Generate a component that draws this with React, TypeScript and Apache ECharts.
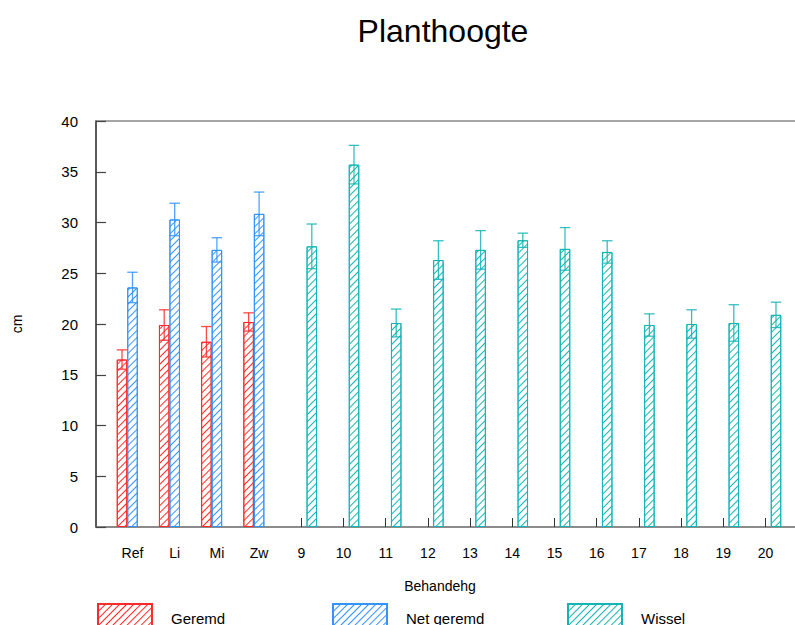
import React, { useEffect, useRef } from "react";
import * as echarts from "echarts";

const categories = ["Ref", "Li", "Mi", "Zw", "9", "10", "11", "12", "13", "14", "15", "16", "17", "18", "19", "20"];
const seriesNames = ["Geremd", "Net geremd", "Wissel"];
const geremd = [16.5, 19.9, 18.25, 20.2, null, null, null, null, null, null, null, null, null, null, null, null];
const geremdErr = [0.95, 1.5, 1.5, 0.9, null, null, null, null, null, null, null, null, null, null, null, null];
const nietGeremd = [23.6, 30.3, 27.3, 30.85, null, null, null, null, null, null, null, null, null, null, null, null];
const nietGeremdErr = [1.5, 1.6, 1.2, 2.15, null, null, null, null, null, null, null, null, null, null, null, null];
const wissel = [null, null, null, null, 27.65, 35.7, 20.1, 26.3, 27.3, 28.25, 27.4, 27.1, 19.9, 20.0, 20.1, 20.9];
const wisselErr = [null, null, null, null, 2.2, 1.9, 1.37, 1.9, 1.9, 0.7, 2.1, 1.1, 1.1, 1.4, 1.8, 1.25];
const yTicks = { min: 0, max: 40, interval: 5 };

const colors = ["#ff2a2a", "#3393ff", "#14b4b4"];
const BAR_W = 10.5;
const FONT = "'Liberation Sans', Arial, sans-serif";

export default function App() {
  const ref = useRef<HTMLDivElement>(null);
  useEffect(() => {
    if (!ref.current) return;
    const chart = echarts.init(ref.current, null, { renderer: "svg" });
    const values = [geremd, nietGeremd, wissel];
    const errs = [geremdErr, nietGeremdErr, wisselErr];
    const offsets = [-BAR_W, 0, BAR_W];

    const decal = (c: string) => ({
      symbol: "rect",
      symbolSize: 1,
      color: c,
      backgroundColor: "#ffffff",
      dashArrayX: [1, 0],
      dashArrayY: [1, 3.2],
      rotation: -Math.PI / 4,
    });

    const barSeries = values.map((v, i) => ({
      type: "bar",
      name: seriesNames[i],
      xAxisIndex: 2,
      yAxisIndex: 1,
      data: v,
      barWidth: BAR_W,
      barGap: "0%",
      itemStyle: { color: "#ffffff", borderColor: colors[i], borderWidth: 1, decal: decal(colors[i]) },
      z: 3,
    }));

    const errSeries = values.map((v, i) => ({
      type: "custom",
      name: seriesNames[i] + " err",
      xAxisIndex: 2,
      yAxisIndex: 1,
      z: 4,
      silent: true,
      data: v
        .map((val, k) => (val == null ? null : [k, (val as number) - (errs[i][k] as number), (val as number) + (errs[i][k] as number)]))
        .filter((d) => d != null),
      renderItem: (params: any, api: any) => {
        const k = api.value(0);
        const lo = api.coord([k, api.value(1)]);
        const hi = api.coord([k, api.value(2)]);
        const x = lo[0] + offsets[i];
        const hw = BAR_W / 2;
        const st = { stroke: colors[i], lineWidth: 1.3, opacity: 0.85 };
        return {
          type: "group",
          children: [
            { type: "line", shape: { x1: x, y1: lo[1], x2: x, y2: hi[1] }, style: st },
            { type: "line", shape: { x1: x - hw, y1: hi[1], x2: x + hw, y2: hi[1] }, style: st },
            { type: "line", shape: { x1: x - hw, y1: lo[1], x2: x + hw, y2: lo[1] }, style: st },
          ],
        };
      },
      encode: { x: 0, y: [1, 2] },
    }));

    const legendItem = (i: number, left: number) => ({
      data: [seriesNames[i]],
      left,
      top: 603,
      padding: 0,
      itemWidth: 54,
      itemHeight: 28,
      icon: "rect",
      textStyle: { fontSize: 15, color: "#000", fontFamily: FONT, padding: [0, 0, 0, 14] },
      selectedMode: false,
    });

    chart.setOption({
      animation: false,
      backgroundColor: "#ffffff",
      title: {
        text: "Planthoogte",
        left: 438,
        top: 10,
        textAlign: "center",
        textStyle: { fontSize: 32, fontWeight: "normal", color: "#000", fontFamily: FONT },
      },
      legend: [legendItem(0, 97), legendItem(1, 332), legendItem(2, 567)],
      grid: [
        { left: 96, right: 0, top: 121, bottom: 98 },
        { left: 111.4, right: 8.4, top: 121, bottom: 98 },
      ],
      xAxis: [
        {
          type: "value",
          gridIndex: 0,
          min: 0,
          max: 1,
          position: "bottom",
          axisLine: { show: true, lineStyle: { color: "#666", width: 1.5 } },
          axisTick: { show: false },
          axisLabel: { show: false },
          splitLine: { show: false },
        },
        {
          type: "value",
          gridIndex: 0,
          min: 0,
          max: 1,
          position: "top",
          axisLine: { show: true, lineStyle: { color: "#888", width: 1.5 } },
          axisTick: { show: false },
          axisLabel: { show: false },
          splitLine: { show: false },
        },
        {
          type: "category",
          gridIndex: 1,
          data: categories,
          boundaryGap: true,
          axisLine: { show: false },
          axisTick: { show: true, inside: true, alignWithLabel: true, length: 9, lineStyle: { color: "#333" } },
          axisLabel: { margin: 19, fontSize: 14, color: "#000", fontFamily: FONT },
          name: "Behandehg",
          nameLocation: "middle",
          nameGap: 52,
          nameTextStyle: { fontSize: 14, color: "#000", fontFamily: FONT, padding: [0, 18, 0, 0] },
        },
      ],
      yAxis: [
        {
          type: "value",
          gridIndex: 0,
          min: yTicks.min,
          max: yTicks.max,
          interval: yTicks.interval,
          axisLine: { show: true, lineStyle: { color: "#222", width: 1.5 } },
          axisTick: { show: true, inside: true, length: 10, lineStyle: { color: "#444", width: 1.2 } },
          axisLabel: { margin: 18, fontSize: 15, color: "#000", fontFamily: FONT },
          splitLine: { show: false },
          name: "cm",
          nameLocation: "middle",
          nameGap: 72,
          nameRotate: 90,
          nameTextStyle: { fontSize: 14, color: "#000", fontFamily: FONT },
        },
        {
          type: "value",
          gridIndex: 1,
          min: yTicks.min,
          max: yTicks.max,
          interval: yTicks.interval,
          show: false,
          splitLine: { show: false },
        },
      ],
      series: [...barSeries, ...errSeries],
    });
    return () => chart.dispose();
  }, []);
  return <div ref={ref} style={{ width: 795, height: 625, position: "absolute", left: 0, top: 0 }} />;
}
